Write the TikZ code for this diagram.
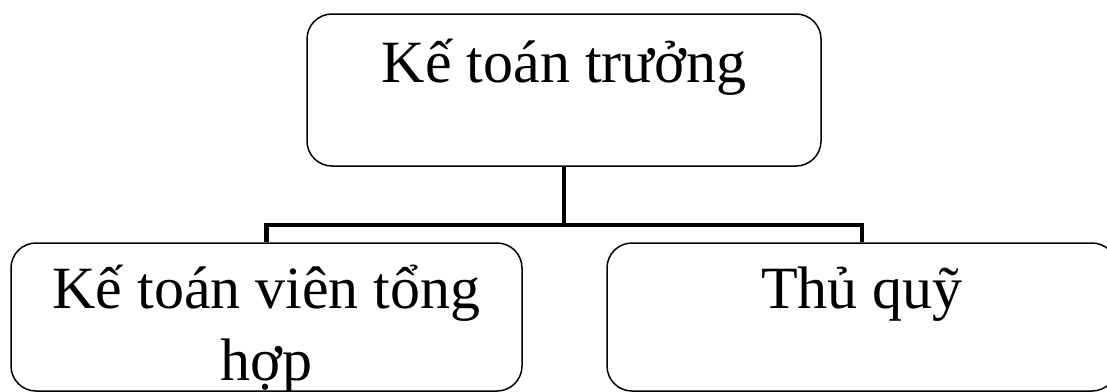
\documentclass[tikz,border=0pt]{standalone}
\usepackage{fontspec}
\setmainfont{Liberation Serif}
\tikzset{
  box/.style={draw=black, line width=1.5pt, rounded corners=25pt, inner sep=0pt},
  conn/.style={draw=black, line width=4.5pt, line join=miter},
  lbl/.style={font=\fontsize{60}{72}\selectfont, inner sep=0pt, align=center, anchor=base}
}
\begin{document}
\begin{tikzpicture}[x=1pt,y=-1pt]
\useasboundingbox (0,0) rectangle (1107,391);
\clip (0,0) rectangle (1107,391);
\node[box, minimum width=514pt, minimum height=152pt] (top) at (564,90) {};
\node[box, minimum width=511pt, minimum height=148pt] (kt) at (266.5,317) {};
\node[box, minimum width=510pt, minimum height=148pt] (tq) at (862,317) {};
\node[lbl] (ttop) at (564,82) {Kế toán trưởng};
\node[lbl] (tkt) at (266.5,380) {Kế toán viên tổng\\hợp};
\node[lbl] (ttq) at (862,308) {Thủ quỹ};
\coordinate (mid) at (564,225);
\draw[conn] (top.south) -- (mid);
\draw[conn] (kt.north) |- (mid) -| (tq.north);
\end{tikzpicture}
\end{document}
